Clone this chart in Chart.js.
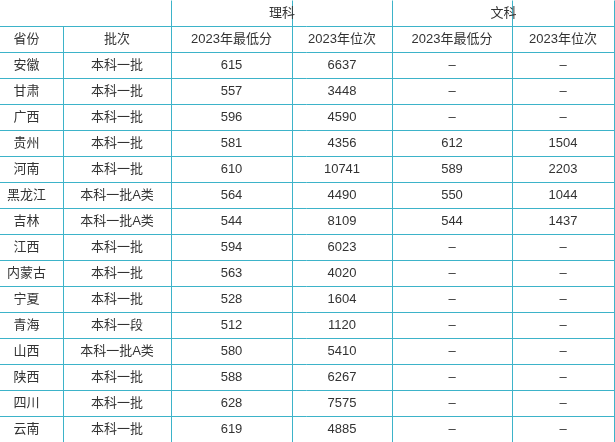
<!DOCTYPE html>
<html><head><meta charset="utf-8">
<script src="https://cdn.jsdelivr.net/npm/chart.js@4"></script>
<style>html,body{margin:0;padding:0;background:#fff}#wrap{width:615px;height:442px}</style>
</head><body><div id="wrap"><canvas id="c"></canvas></div>
<script>
const provinces=["安徽","甘肃","广西","贵州","河南","黑龙江","吉林","江西","内蒙古","宁夏","青海","山西","陕西","四川","云南"];
const batches=["本科一批","本科一批","本科一批","本科一批","本科一批","本科一批A类","本科一批A类","本科一批","本科一批","本科一批","本科一段","本科一批A类","本科一批","本科一批","本科一批"];
const sciScore=[615,557,596,581,610,564,544,594,563,528,512,580,588,628,619];
const sciRank=[6637,3448,4590,4356,10741,4490,8109,6023,4020,1604,1120,5410,6267,7575,4885];
const artScore=[null,null,null,612,589,550,544,null,null,null,null,null,null,null,null];
const artRank=[null,null,null,1504,2203,1044,1437,null,null,null,null,null,null,null,null];
const groupHeaders=["理科","文科"];
const colHeaders=["省份","批次","2023年最低分","2023年位次","2023年最低分","2023年位次"];
const colEdges=[-10,63,171,292,392,512,614];
const lineColor="#3db3c9";
const tablePlugin={id:'table',afterDraw(chart){
 const ctx=chart.ctx,xs=chart.scales.x,ys=chart.scales.y;
 const X=v=>Math.round(xs.getPixelForValue(v))+0.5, Y=r=>Math.round(ys.getPixelForValue(r))+0.5;
 const nRows=provinces.length+2;
 ctx.save();ctx.strokeStyle=lineColor;ctx.lineWidth=1;
 ctx.beginPath();
 for(let r=1;r<=nRows;r++){ctx.moveTo(X(colEdges[0]),Y(r));ctx.lineTo(X(colEdges[6]),Y(r));}
 for(let i=0;i<colEdges.length;i++){
   const top=(i===1)?1:0;
   ctx.moveTo(X(colEdges[i]),Y(top));ctx.lineTo(X(colEdges[i]),Y(nRows));
 }
 ctx.stroke();
 ctx.fillStyle="#333";ctx.font="13px 'Liberation Sans','Noto Sans CJK SC', sans-serif";
 ctx.textAlign="center";ctx.textBaseline="middle";
 const cx=i=>(xs.getPixelForValue(colEdges[i])+xs.getPixelForValue(colEdges[i+1]))/2;
 const cy=r=>(ys.getPixelForValue(r)+ys.getPixelForValue(r+1))/2;
 ctx.fillText(groupHeaders[0],(X(171)+X(392))/2,cy(0));
 ctx.fillText(groupHeaders[1],(X(392)+X(614))/2,cy(0));
 colHeaders.forEach((h,i)=>ctx.fillText(h,cx(i),cy(1)));
 provinces.forEach((p,k)=>{
   const r=k+2;
   const vals=[p,batches[k],sciScore[k],sciRank[k],artScore[k]==null?'–':artScore[k],artRank[k]==null?'–':artRank[k]];
   vals.forEach((v,i)=>ctx.fillText(String(v),cx(i),cy(r)));
 });
 ctx.restore();
}};
new Chart(document.getElementById('c'),{type:'scatter',
 data:{datasets:[{data:[],pointRadius:0}]},
 options:{responsive:true,maintainAspectRatio:false,animation:false,
  layout:{padding:0},plugins:{legend:{display:false},tooltip:{enabled:false}},
  scales:{x:{type:'linear',min:0,max:615,display:false},y:{type:'linear',min:0,max:17,reverse:true,display:false}}},
 plugins:[tablePlugin]});
</script></body></html>
